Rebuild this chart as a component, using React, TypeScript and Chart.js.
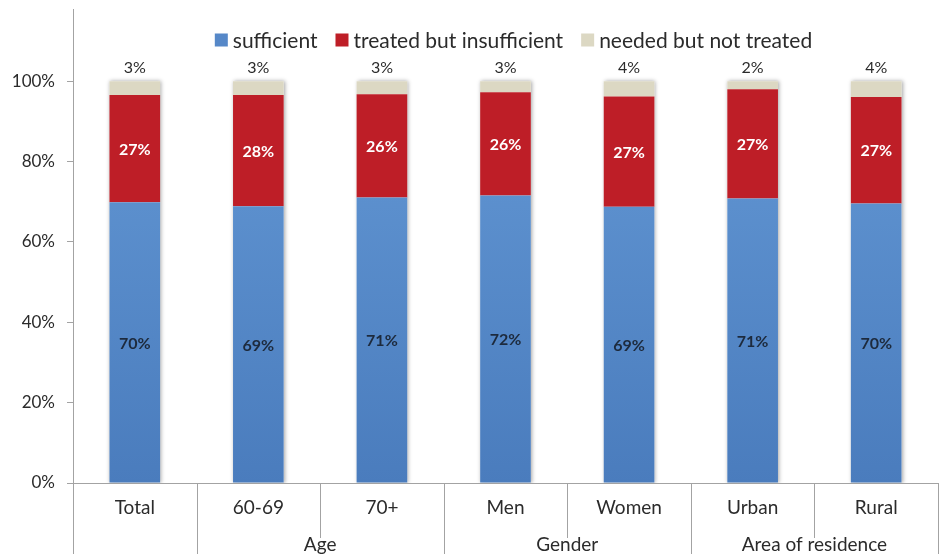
import React, { useEffect, useRef } from "react";
import { Chart, registerables } from "chart.js";

Chart.register(...registerables);

const categories = ["Total", "60-69", "70+", "Men", "Women", "Urban", "Rural"];
const sufficient = [69.9, 68.9, 71.1, 71.6, 68.8, 70.8, 69.6];
const treatedInsufficient = [26.7, 27.7, 25.7, 25.7, 27.4, 27.2, 26.5];
const neededNotTreated = [3.4, 3.4, 3.2, 2.7, 3.8, 2.0, 3.9];
const seriesNames = ["sufficient", "treated but insufficient", "needed but not treated"];
const groupLabels = ["", "Age", "Gender", "Area of residence"];
const groupSpans = [1, 2, 2, 2];
const yTicks = [0, 20, 40, 60, 80, 100];

const FONT = "Lato, 'Open Sans', sans-serif";
const BLUE = "#5688c8";
const RED = "#be1e27";
const BEIGE = "#dcd8c3";
const LINE = "#a3a3a3";
const TEXT = "#2b2b2b";

const extrasPlugin = {
  id: "extras",
  beforeDatasetsDraw(chart: any) {
    const { ctx, chartArea } = chart;
    const m0 = chart.getDatasetMeta(0);
    const m2 = chart.getDatasetMeta(2);
    ctx.save();
    ctx.beginPath();
    ctx.rect(chartArea.left, chartArea.top, chartArea.right - chartArea.left, chartArea.bottom - chartArea.top);
    ctx.clip();
    ctx.shadowColor = "rgba(0,0,0,0.35)";
    ctx.shadowBlur = 4;
    ctx.shadowOffsetX = 1;
    ctx.fillStyle = "#ffffff";
    m2.data.forEach((el: any, j: number) => {
      const base = m0.data[j].base;
      ctx.fillRect(el.x - el.width / 2, el.y, el.width, base - el.y);
    });
    ctx.restore();
  },
  afterDatasetsDraw(chart: any) {
    const { ctx } = chart;
    ctx.save();
    ctx.textAlign = "center";
    ctx.textBaseline = "middle";
    const m0 = chart.getDatasetMeta(0);
    const m1 = chart.getDatasetMeta(1);
    const m2 = chart.getDatasetMeta(2);
    m0.data.forEach((el: any, j: number) => {
      ctx.font = `bold 16px ${FONT}`;
      ctx.fillStyle = "#1d2a3c";
      ctx.fillText(Math.round(sufficient[j]) + "%", el.x, (el.y + el.base) / 2 + 1);
    });
    m1.data.forEach((el: any, j: number) => {
      ctx.font = `bold 16px ${FONT}`;
      ctx.fillStyle = "#ffffff";
      ctx.fillText(Math.round(treatedInsufficient[j]) + "%", el.x, (el.y + el.base) / 2 + 1);
    });
    m2.data.forEach((el: any, j: number) => {
      ctx.font = `16px ${FONT}`;
      ctx.fillStyle = TEXT;
      ctx.fillText(Math.round(neededNotTreated[j]) + "%", el.x, el.y - 13);
    });
    ctx.restore();
  },
  afterDraw(chart: any) {
    const { ctx, chartArea, scales } = chart;
    const x = scales.x;
    const bottom = chart.height;
    const step = x.getPixelForValue(1) - x.getPixelForValue(0);
    ctx.save();
    ctx.strokeStyle = LINE;
    ctx.lineWidth = 1;
    ctx.beginPath();
    ctx.moveTo(Math.round(chartArea.left) + 0.5, chartArea.bottom);
    ctx.lineTo(Math.round(chartArea.left) + 0.5, bottom);
    ctx.stroke();
    let idx = 0;
    const groupEnds: number[] = [];
    groupSpans.forEach((s) => {
      idx += s;
      groupEnds.push(idx);
    });
    for (let b = 1; b <= categories.length; b++) {
      const px = Math.round(x.getPixelForValue(b - 1) + step / 2) + 0.5;
      const long = groupEnds.includes(b);
      ctx.beginPath();
      ctx.moveTo(px, chartArea.bottom);
      ctx.lineTo(px, long ? bottom : chartArea.bottom + 55);
      ctx.stroke();
    }
    ctx.fillStyle = TEXT;
    ctx.textAlign = "center";
    ctx.textBaseline = "middle";
    ctx.font = `19px ${FONT}`;
    categories.forEach((c, j) => {
      ctx.fillText(c, x.getPixelForValue(j), chartArea.bottom + 25);
    });
    let start = 0;
    groupLabels.forEach((g, gi) => {
      const end = start + groupSpans[gi] - 1;
      const cx = (x.getPixelForValue(start) + x.getPixelForValue(end)) / 2;
      if (g) ctx.fillText(g, cx, chartArea.bottom + 62);
      start = end + 1;
    });
    const colors = [BLUE, RED, BEIGE];
    ctx.font = `21px ${FONT}`;
    const box = 13;
    const gapBoxText = 5;
    const gapItems = 18;
    const widths = seriesNames.map((n) => ctx.measureText(n).width);
    const total = widths.reduce((a, w) => a + box + gapBoxText + w, 0) + gapItems * (seriesNames.length - 1);
    let lx = (chartArea.left + chartArea.right) / 2 + 8 - total / 2;
    const ly = 40;
    ctx.textAlign = "left";
    seriesNames.forEach((n, i) => {
      ctx.fillStyle = colors[i];
      ctx.fillRect(lx, ly - box / 2, box, box);
      ctx.fillStyle = TEXT;
      ctx.fillText(n, lx + box + gapBoxText, ly + 1);
      lx += box + gapBoxText + widths[i] + gapItems;
    });
    ctx.restore();
  },
};

export default function App() {
  const ref = useRef<HTMLCanvasElement | null>(null);
  useEffect(() => {
    if (!ref.current) return;
    const blueFill = (c: any) => {
      const ca = c.chart.chartArea;
      if (!ca) return BLUE;
      const g = c.chart.ctx.createLinearGradient(0, ca.top + 180, 0, ca.bottom);
      g.addColorStop(0, "#5c90ce");
      g.addColorStop(1, "#4a7cbd");
      return g;
    };
    const chart = new Chart(ref.current, {
      type: "bar",
      data: {
        labels: categories,
        datasets: [
          { label: seriesNames[0], data: sufficient, backgroundColor: blueFill },
          { label: seriesNames[1], data: treatedInsufficient, backgroundColor: RED },
          { label: seriesNames[2], data: neededNotTreated, backgroundColor: BEIGE },
        ],
      },
      options: {
        responsive: false,
        animation: false,
        layout: { padding: { top: 9, right: 1, bottom: 71, left: 0 } },
        datasets: { bar: { barPercentage: 0.41, categoryPercentage: 1, borderWidth: 0 } },
        plugins: { legend: { display: false }, tooltip: { enabled: false } },
        scales: {
          x: {
            stacked: true,
            ticks: { display: false },
            grid: { display: false },
            border: { display: true, color: LINE },
            afterFit: (s: any) => {
              s.height = 0;
              s.paddingLeft = 0;
              s.paddingRight = 0;
            },
          },
          y: {
            stacked: true,
            min: 0,
            max: 118,
            afterBuildTicks: (s: any) => {
              s.ticks = yTicks.map((v) => ({ value: v }));
            },
            afterFit: (s: any) => {
              s.width = 73;
              s.paddingTop = 0;
              s.paddingBottom = 0;
            },
            ticks: {
              padding: 12,
              color: TEXT,
              font: { family: FONT, size: 17 },
              callback: (v: any) => v + "%",
            },
            grid: { drawOnChartArea: false, drawTicks: true, tickLength: 6, color: LINE },
            border: { display: true, color: LINE },
          },
        },
      },
      plugins: [extrasPlugin],
    });
    return () => chart.destroy();
  }, []);
  return (
    <canvas
      ref={ref}
      width={939}
      height={554}
      style={{ position: "absolute", left: 0, top: 0, display: "block", width: 939, height: 554 }}
    />
  );
}
